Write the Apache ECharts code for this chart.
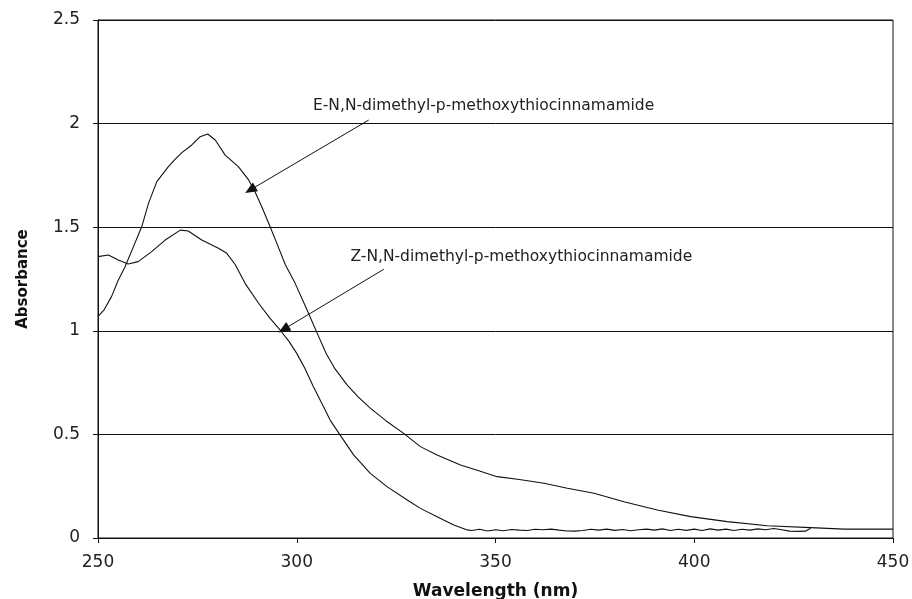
<!DOCTYPE html>
<html>
<head>
<meta charset="utf-8">
<script src="https://cdn.jsdelivr.net/npm/echarts@6/dist/echarts.min.js"></script>
<style>
  html, body { margin: 0; padding: 0; background: #fff; }
  #chart { width: 912px; height: 599px; }
</style>
</head>
<body>
<div id="chart"></div>
<script>
// ---- Data ----
const eWavelength = [250, 251.5, 253.4, 255, 256.8, 259, 261, 262.7, 264.8, 267.7, 269.5, 271.1, 273.6, 275.7, 277.6, 279.5, 282, 285.3, 287.9, 289.5, 291.2, 293.3, 295, 297.1, 299.6, 302.6, 305.1, 307.4, 309.5, 312.6, 315.5, 318.5, 322.5, 326.9, 331.1, 335.3, 341.2, 345.8, 350.4, 356, 362.2, 368.1, 374.8, 382.3, 390.7, 399.1, 408.3, 418.4, 429.3, 437.7, 450];
const eAbsorbance = [1.07, 1.10, 1.165, 1.24, 1.309, 1.41, 1.502, 1.615, 1.72, 1.792, 1.83, 1.86, 1.897, 1.937, 1.950, 1.921, 1.848, 1.792, 1.728, 1.671, 1.599, 1.502, 1.422, 1.320, 1.229, 1.10, 0.99, 0.89, 0.82, 0.74, 0.68, 0.627, 0.565, 0.505, 0.441, 0.401, 0.352, 0.325, 0.296, 0.282, 0.264, 0.240, 0.216, 0.175, 0.135, 0.103, 0.079, 0.059, 0.050, 0.043, 0.043];

const zWavelength = [250, 252.6, 255.1, 257.6, 260.1, 263.5, 266.9, 270.7, 272.7, 276.1, 280.3, 282.4, 284.5, 287, 290.4, 293.3, 295.8, 298, 300, 302, 304.2, 306.3, 308.4, 310.8, 314.3, 318.5, 322.7, 327.8, 331.1, 335.3, 339.5, 342.9, 344, 346, 348, 350, 352, 354, 356, 358, 360, 362, 364, 366, 368, 370, 372, 374, 376, 378, 380, 382, 384, 386, 388, 390, 392, 394, 396, 398, 400, 402, 404, 406, 408, 410, 412, 414, 416, 418, 420, 422, 424, 426, 428, 428.8, 429.3];
const zAbsorbance = [1.358, 1.366, 1.342, 1.322, 1.334, 1.382, 1.438, 1.486, 1.482, 1.438, 1.398, 1.374, 1.32, 1.229, 1.133, 1.06, 1.004, 0.95, 0.891, 0.82, 0.730, 0.65, 0.569, 0.5, 0.401, 0.312, 0.248, 0.183, 0.143, 0.103, 0.063, 0.039, 0.036, 0.042, 0.034, 0.040, 0.035, 0.041, 0.038, 0.036, 0.042, 0.040, 0.043, 0.038, 0.034, 0.033, 0.036, 0.042, 0.038, 0.043, 0.037, 0.041, 0.035, 0.040, 0.043, 0.038, 0.044, 0.036, 0.042, 0.037, 0.043, 0.036, 0.044, 0.038, 0.043, 0.036, 0.042, 0.038, 0.044, 0.040, 0.046, 0.040, 0.033, 0.032, 0.033, 0.042, 0.046];

const seriesNames = ['E-N,N-dimethyl-p-methoxythiocinnamamide', 'Z-N,N-dimethyl-p-methoxythiocinnamamide'];
const xTickValues = [250, 300, 350, 400, 450];
const yTickValues = [0, 0.5, 1, 1.5, 2, 2.5];
const xTitle = 'Wavelength (nm)';
const yTitle = 'Absorbance';

// annotation anchors in data space: [label centre], [arrow start], [arrow tip]
const eLabelAt = [347.0, 2.086];
const eArrow = [[318.1, 2.017], [288.3, 1.680]];
const zLabelAt = [356.5, 1.358];
const zArrow = [[321.9, 1.297], [296.7, 1.007]];

// ---- Chart ----
const FONT = 'DejaVu Sans';
const INK = '#111';
const chart = echarts.init(document.getElementById('chart'), null, { renderer: 'canvas' });

function pairs(xs, ys) { return xs.map((x, i) => [x, ys[i]]); }
function arrowMark(a) {
  return {
    silent: true,
    symbol: ['none', 'triangle'],
    symbolSize: [10, 12],
    label: { show: false },
    lineStyle: { color: INK, width: 1, type: 'solid' },
    emphasis: { disabled: true },
    animation: false,
    data: [[{ coord: a[0] }, { coord: a[1] }]]
  };
}

const option = {
  animation: false,
  backgroundColor: '#fff',
  grid: { left: 98, right: 19, top: 20, bottom: 61, show: true, borderColor: INK, borderWidth: 1, containLabel: false, outerBoundsMode: 'none' },
  xAxis: {
    type: 'value', min: xTickValues[0], max: xTickValues[xTickValues.length - 1], interval: 50,
    name: xTitle, nameLocation: 'middle', nameGap: 45,
    nameTextStyle: { fontFamily: FONT, fontWeight: 'bold', fontSize: 17, color: INK },
    axisLine: { show: true, lineStyle: { color: INK, width: 1 } },
    axisTick: { show: true, length: 5, lineStyle: { color: INK } },
    axisLabel: { fontFamily: FONT, fontSize: 17, color: '#222', margin: 16 },
    splitLine: { show: false }
  },
  yAxis: {
    type: 'value', min: yTickValues[0], max: yTickValues[yTickValues.length - 1], interval: 0.5,
    name: yTitle, nameLocation: 'middle', nameGap: 67,
    nameTextStyle: { fontFamily: FONT, fontWeight: 'bold', fontSize: 15, color: INK },
    axisLine: { show: true, lineStyle: { color: INK, width: 1 } },
    axisTick: { show: true, length: 5, lineStyle: { color: INK } },
    axisLabel: { fontFamily: FONT, fontSize: 17, color: '#222', margin: 18 },
    splitLine: { show: true, lineStyle: { color: INK, width: 1 } }
  },
  series: [
    {
      name: seriesNames[0], type: 'line', data: pairs(eWavelength, eAbsorbance),
      showSymbol: false, smooth: false, lineStyle: { color: INK, width: 1.1 },
      markLine: arrowMark(eArrow)
    },
    {
      name: seriesNames[1], type: 'line', data: pairs(zWavelength, zAbsorbance),
      showSymbol: false, smooth: false, lineStyle: { color: INK, width: 1.1 },
      markLine: arrowMark(zArrow)
    }
  ]
};
chart.setOption(option);

function labelGraphic(text, at) {
  const p = chart.convertToPixel({ gridIndex: 0 }, at);
  return {
    type: 'text', x: p[0], y: p[1], silent: true,
    style: { text: text, fontFamily: FONT, fontSize: 15.5, fill: '#222', align: 'center', verticalAlign: 'middle' }
  };
}
chart.setOption({
  graphic: [labelGraphic(seriesNames[0], eLabelAt), labelGraphic(seriesNames[1], zLabelAt)]
});
</script>
</body>
</html>
